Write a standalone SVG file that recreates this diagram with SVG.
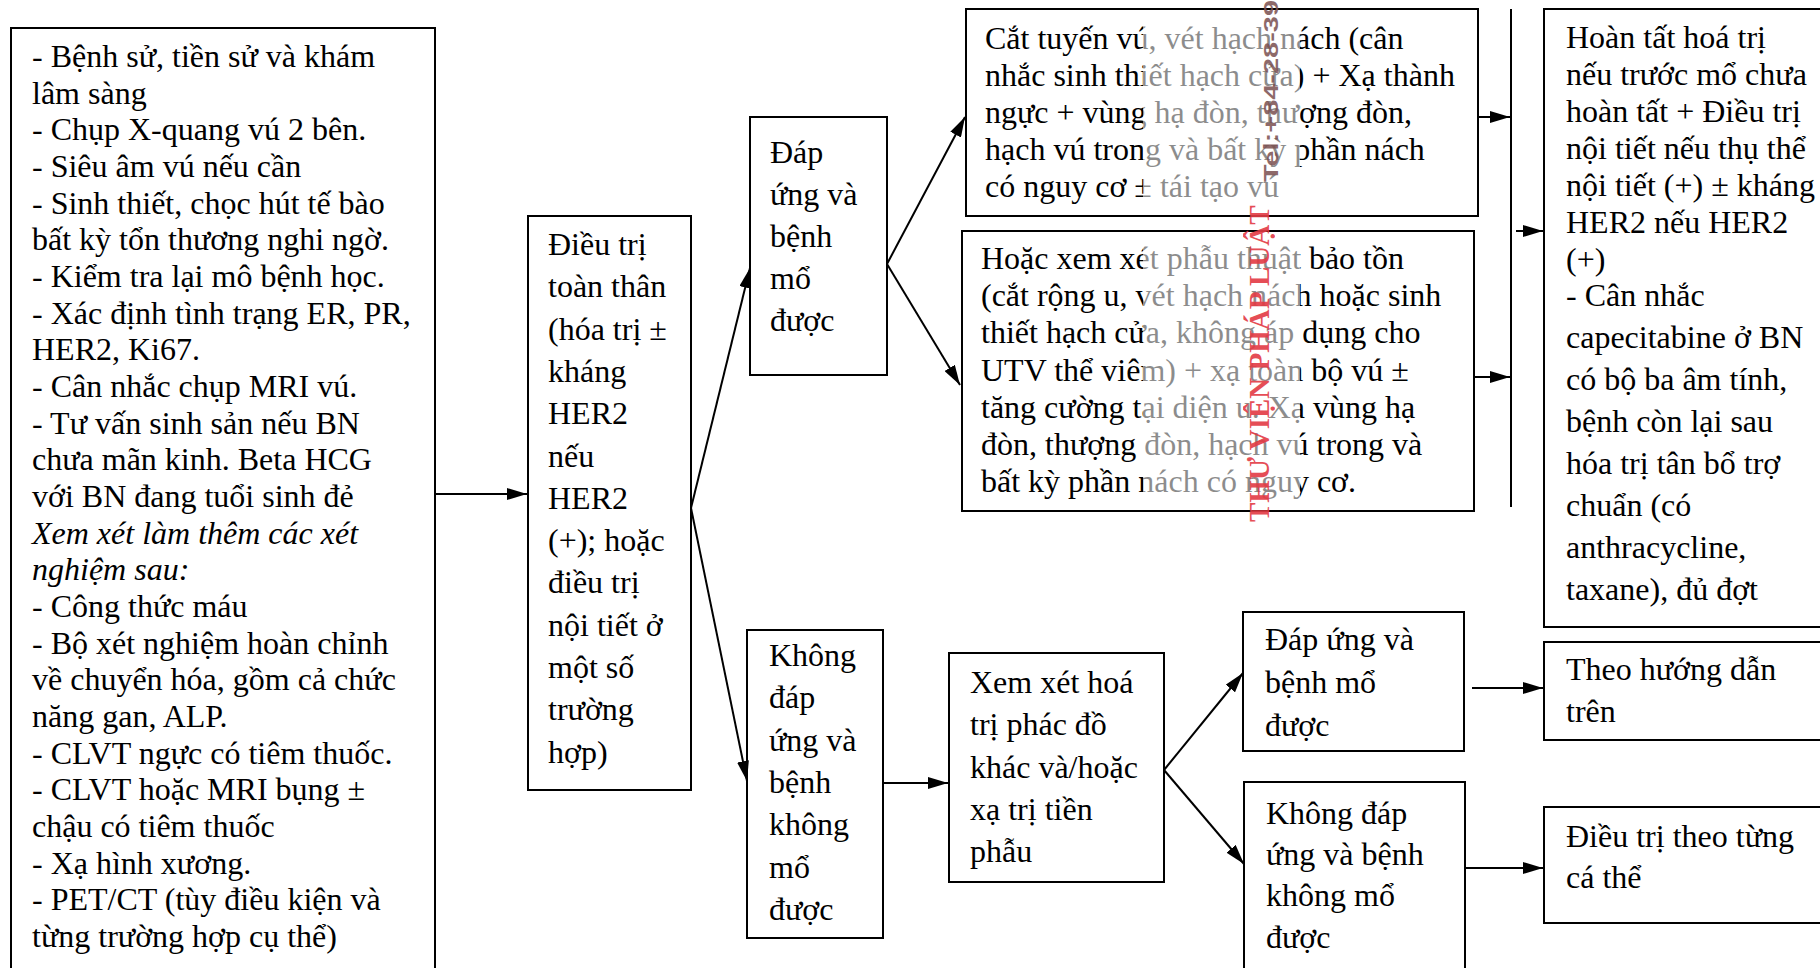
<svg xmlns="http://www.w3.org/2000/svg" width="1820" height="968" viewBox="0 0 1820 968">
<style>
.box{fill:#fff;stroke:#000;stroke-width:2}
.t{font-family:"Liberation Serif","Times New Roman",serif;font-size:32px;fill:#000}
.it{font-style:italic}
.c{stroke:#000;stroke-width:2;fill:none}
.fade{fill:#fff;opacity:0.55}
.wm{font-family:"Liberation Serif","Times New Roman",serif;font-weight:bold;fill:#e33a44;opacity:0.9}
</style>
<defs>
<marker id="ah" viewBox="0 0 20 12" refX="20" refY="6" markerWidth="20" markerHeight="12" markerUnits="userSpaceOnUse" orient="auto">
<path d="M0,0 L20,6 L0,12 Z" fill="#000"/>
</marker>
</defs>
<rect x="0" y="0" width="1820" height="968" fill="#fff"/>

<g id="n-workup">
<rect class="box" x="11" y="28" width="424" height="960"/>
<text class="t">
<tspan x="32" y="67">- Bệnh sử, tiền sử và khám</tspan>
<tspan x="32" y="103.7">lâm sàng</tspan>
<tspan x="32" y="140.3">- Chụp X-quang vú 2 bên.</tspan>
<tspan x="32" y="177">- Siêu âm vú nếu cần</tspan>
<tspan x="32" y="213.7">- Sinh thiết, chọc hút tế bào</tspan>
<tspan x="32" y="250.3">bất kỳ tổn thương nghi ngờ.</tspan>
<tspan x="32" y="287">- Kiểm tra lại mô bệnh học.</tspan>
<tspan x="32" y="323.7">- Xác định tình trạng ER, PR,</tspan>
<tspan x="32" y="360.3">HER2, Ki67.</tspan>
<tspan x="32" y="397">- Cân nhắc chụp MRI vú.</tspan>
<tspan x="32" y="433.7">- Tư vấn sinh sản nếu BN</tspan>
<tspan x="32" y="470.3">chưa mãn kinh. Beta HCG</tspan>
<tspan x="32" y="507">với BN đang tuổi sinh đẻ</tspan>
<tspan x="32" y="543.7" class="it">Xem xét làm thêm các xét</tspan>
<tspan x="32" y="580.3" class="it">nghiệm sau:</tspan>
<tspan x="32" y="617">- Công thức máu</tspan>
<tspan x="32" y="653.7">- Bộ xét nghiệm hoàn chỉnh</tspan>
<tspan x="32" y="690.3">về chuyển hóa, gồm cả chức</tspan>
<tspan x="32" y="727">năng gan, ALP.</tspan>
<tspan x="32" y="763.7">- CLVT ngực có tiêm thuốc.</tspan>
<tspan x="32" y="800.3">- CLVT hoặc MRI bụng ±</tspan>
<tspan x="32" y="837">chậu có tiêm thuốc</tspan>
<tspan x="32" y="873.7">- Xạ hình xương.</tspan>
<tspan x="32" y="910.3">- PET/CT (tùy điều kiện và</tspan>
<tspan x="32" y="947">từng trường hợp cụ thể)</tspan>
</text>
</g>

<g id="n-systemic">
<rect class="box" x="528" y="216" width="163" height="574"/>
<text class="t">
<tspan x="548" y="255">Điều trị</tspan>
<tspan x="548" y="297.3">toàn thân</tspan>
<tspan x="548" y="339.6">(hóa trị ±</tspan>
<tspan x="548" y="381.9">kháng</tspan>
<tspan x="548" y="424.2">HER2</tspan>
<tspan x="548" y="466.5">nếu</tspan>
<tspan x="548" y="508.8">HER2</tspan>
<tspan x="548" y="551.1">(+); hoặc</tspan>
<tspan x="548" y="593.4">điều trị</tspan>
<tspan x="548" y="635.7">nội tiết ở</tspan>
<tspan x="548" y="678">một số</tspan>
<tspan x="548" y="720.3">trường</tspan>
<tspan x="548" y="762.6">hợp)</tspan>
</text>
</g>

<g id="n-resp-op">
<rect class="box" x="750" y="117" width="137" height="258"/>
<text class="t">
<tspan x="770" y="163">Đáp</tspan>
<tspan x="770" y="205">ứng và</tspan>
<tspan x="770" y="247">bệnh</tspan>
<tspan x="770" y="289">mổ</tspan>
<tspan x="770" y="331">được</tspan>
</text>
</g>

<g id="n-noresp">
<rect class="box" x="747" y="630" width="136" height="308"/>
<text class="t">
<tspan x="769" y="666">Không</tspan>
<tspan x="769" y="708.3">đáp</tspan>
<tspan x="769" y="750.6">ứng và</tspan>
<tspan x="769" y="792.9">bệnh</tspan>
<tspan x="769" y="835.2">không</tspan>
<tspan x="769" y="877.5">mổ</tspan>
<tspan x="769" y="919.8">được</tspan>
</text>
</g>

<g id="n-mastectomy">
<rect class="box" x="966" y="9" width="512" height="207"/>
<text class="t">
<tspan x="985" y="49">Cắt tuyến vú, vét hạch nách (cân</tspan>
<tspan x="985" y="86">nhắc sinh thiết hạch cửa) + Xạ thành</tspan>
<tspan x="985" y="123">ngực + vùng hạ đòn, thượng đòn,</tspan>
<tspan x="985" y="160">hạch vú trong và bất kỳ phần nách</tspan>
<tspan x="985" y="197">có nguy cơ ± tái tạo vú</tspan>
</text>
<rect class="fade" x="1143" y="10" width="157" height="205"/>
<rect x="966" y="9" width="512" height="207" fill="none" stroke="#000" stroke-width="2"/>
</g>

<g id="n-bcs">
<rect class="box" x="962" y="231" width="512" height="280"/>
<text class="t">
<tspan x="981" y="269">Hoặc xem xét phẫu thuật bảo tồn</tspan>
<tspan x="981" y="306">(cắt rộng u, vét hạch nách hoặc sinh</tspan>
<tspan x="981" y="343">thiết hạch cửa, không áp dụng cho</tspan>
<tspan x="981" y="381">UTV thể viêm) + xạ toàn bộ vú ±</tspan>
<tspan x="981" y="418">tăng cường tại diện u. Xạ vùng hạ</tspan>
<tspan x="981" y="455">đòn, thượng đòn, hạch vú trong và</tspan>
<tspan x="981" y="492">bất kỳ phần nách có nguy cơ.</tspan>
</text>
<rect class="fade" x="1143" y="232" width="157" height="278"/>
<rect x="962" y="231" width="512" height="280" fill="none" stroke="#000" stroke-width="2"/>
</g>

<g id="n-adjuvant">
<rect class="box" x="1544" y="9" width="290" height="618"/>
<text class="t">
<tspan x="1566" y="48">Hoàn tất hoá trị</tspan>
<tspan x="1566" y="85">nếu trước mổ chưa</tspan>
<tspan x="1566" y="122">hoàn tất + Điều trị</tspan>
<tspan x="1566" y="159">nội tiết nếu thụ thể</tspan>
<tspan x="1566" y="196">nội tiết (+) ± kháng</tspan>
<tspan x="1566" y="233">HER2 nếu HER2</tspan>
<tspan x="1566" y="270">(+)</tspan>
<tspan x="1566" y="306">- Cân nhắc</tspan>
<tspan x="1566" y="348">capecitabine ở BN</tspan>
<tspan x="1566" y="390">có bộ ba âm tính,</tspan>
<tspan x="1566" y="432">bệnh còn lại sau</tspan>
<tspan x="1566" y="474">hóa trị tân bổ trợ</tspan>
<tspan x="1566" y="516">chuẩn (có</tspan>
<tspan x="1566" y="558">anthracycline,</tspan>
<tspan x="1566" y="600">taxane), đủ đợt</tspan>
</text>
</g>

<g id="n-alt">
<rect class="box" x="949" y="653" width="215" height="229"/>
<text class="t">
<tspan x="970" y="693">Xem xét hoá</tspan>
<tspan x="970" y="735">trị phác đồ</tspan>
<tspan x="970" y="778">khác và/hoặc</tspan>
<tspan x="970" y="820">xạ trị tiền</tspan>
<tspan x="970" y="862">phẫu</tspan>
</text>
</g>

<g id="n-resp-op2">
<rect class="box" x="1243" y="612" width="221" height="139"/>
<text class="t">
<tspan x="1265" y="650">Đáp ứng và</tspan>
<tspan x="1265" y="693">bệnh mổ</tspan>
<tspan x="1265" y="736">được</tspan>
</text>
</g>

<g id="n-noresp2">
<rect class="box" x="1244" y="782" width="221" height="200"/>
<text class="t">
<tspan x="1266" y="824">Không đáp</tspan>
<tspan x="1266" y="865">ứng và bệnh</tspan>
<tspan x="1266" y="906">không mổ</tspan>
<tspan x="1266" y="948">được</tspan>
</text>
</g>

<g id="n-follow">
<rect class="box" x="1544" y="642" width="290" height="98"/>
<text class="t">
<tspan x="1566" y="680">Theo hướng dẫn</tspan>
<tspan x="1566" y="722">trên</tspan>
</text>
</g>

<g id="n-individual">
<rect class="box" x="1544" y="807" width="290" height="116"/>
<text class="t">
<tspan x="1566" y="847">Điều trị theo từng</tspan>
<tspan x="1566" y="888">cá thể</tspan>
</text>
</g>

<g id="connectors">
<line class="c" x1="435" y1="494" x2="527" y2="494" marker-end="url(#ah)"/>
<line class="c" x1="691" y1="508" x2="750" y2="268" marker-end="url(#ah)"/>
<line class="c" x1="691" y1="508" x2="747" y2="781" marker-end="url(#ah)"/>
<line class="c" x1="887" y1="264" x2="965" y2="117" marker-end="url(#ah)"/>
<line class="c" x1="887" y1="264" x2="960" y2="385" marker-end="url(#ah)"/>
<line class="c" x1="1478" y1="117" x2="1510" y2="117" marker-end="url(#ah)"/>
<line class="c" x1="1474" y1="377" x2="1510" y2="377" marker-end="url(#ah)"/>
<line class="c" x1="1511" y1="9" x2="1511" y2="507"/>
<line class="c" x1="1516" y1="231" x2="1543" y2="231" marker-end="url(#ah)"/>
<line class="c" x1="883" y1="783" x2="948" y2="783" marker-end="url(#ah)"/>
<line class="c" x1="1164" y1="770" x2="1243" y2="673" marker-end="url(#ah)"/>
<line class="c" x1="1164" y1="770" x2="1244" y2="864" marker-end="url(#ah)"/>
<line class="c" x1="1472" y1="688" x2="1543" y2="688" marker-end="url(#ah)"/>
<line class="c" x1="1466" y1="868" x2="1543" y2="868" marker-end="url(#ah)"/>
</g>

<g id="watermark">
<text class="wm" font-size="29" transform="translate(1269,522) rotate(-90)">THƯ VIỆN PHÁP LUẬT</text>
<text font-family="Liberation Sans, Arial, sans-serif" font-weight="bold" font-size="20" fill="#7a5050" opacity="0.85" textLength="182" lengthAdjust="spacingAndGlyphs" transform="translate(1278,182) rotate(-90)">Tel:+84-28-39</text>
</g>
</svg>
